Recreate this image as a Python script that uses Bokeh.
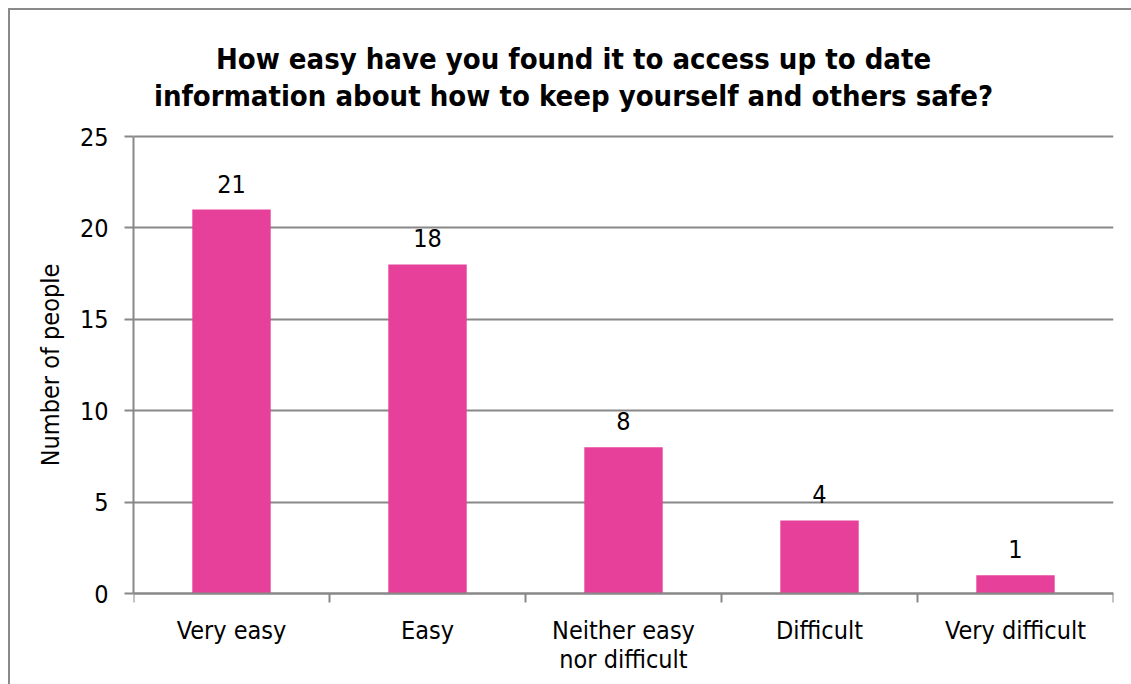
from bokeh.plotting import figure
from bokeh.models import Range1d, FixedTicker, ColumnDataSource, LabelSet, Label
from bokeh.core.properties import value
from bokeh.embed import file_html
from bokeh.resources import INLINE

categories = ["Very easy", "Easy", "Neither easy\nnor difficult", "Difficult", "Very difficult"]
counts = [21, 18, 8, 4, 1]
y_ticks = [0, 5, 10, 15, 20, 25]
title_lines = ["How easy have you found it to access up to date",
               "information about how to keep yourself and others safe?"]
y_label = "Number of people"

FONT = "DejaVu Sans Condensed"
GRAY = "#888888"
PINK = "#E6409A"

# pixel layout (page coordinates)
OFF = 10            # page margin + chart box border
LEFT_X, RIGHT_X = 133, 1113
ZERO_Y = 593        # y of value 0
TOP_Y = 136         # y of value 25
PX_PER_UNIT = (ZERO_Y - TOP_Y) / y_ticks[-1]
FRAME_BOTTOM = 2 * (ZERO_Y + TOP_Y) / 2 - OFF   # keeps the axis title centred on 0..25
Y_END = (ZERO_Y - OFF) / PX_PER_UNIT
Y_START = -(FRAME_BOTTOM - ZERO_Y) / PX_PER_UNIT

n = len(categories)
xs = [i + 0.5 for i in range(n)]
src = ColumnDataSource(dict(x=xs, top=counts, lab=[str(c) for c in counts]))

p = figure(frame_width=RIGHT_X - LEFT_X, frame_height=int(round(FRAME_BOTTOM - OFF)),
           output_backend="svg", toolbar_location=None,
           x_range=Range1d(0, n), y_range=Range1d(Y_START, Y_END),
           min_border_left=LEFT_X - OFF, min_border_right=60, min_border_top=0,
           min_border_bottom=0, title=None)
p.styles = {"margin-left": f"{OFF}px", "margin-top": f"{OFF}px",
            "box-shadow": "-2px -2px 0 0 #8a8a8a"}
p.outline_line_color = None
p.background_fill_color = "white"
p.border_fill_color = "white"

p.vbar(x="x", top="top", bottom=0, width=0.4, source=src, fill_color=PINK, line_color=None)

p.add_layout(LabelSet(x="x", y="top", text="lab", source=src, text_align="center",
                      text_baseline="alphabetic", y_offset=17, text_font=value(FONT),
                      text_font_size=value("25px"), text_color="black"))

# x axis (drawn at value 0)
xa = p.xaxis[0]
xa.fixed_location = 0
xa.ticker = FixedTicker(ticks=xs, minor_ticks=list(range(n + 1)))
xa.major_label_overrides = {x: c for x, c in zip(xs, categories)}
xa.major_tick_line_color = None
xa.major_tick_out = 0
xa.major_tick_in = 0
xa.minor_tick_line_color = GRAY
xa.minor_tick_line_width = 2
xa.minor_tick_out = 9
xa.minor_tick_in = 0
xa.axis_line_color = GRAY
xa.axis_line_width = 2
xa.major_label_text_font = FONT
xa.major_label_text_font_size = "25px"
xa.major_label_text_color = "black"
xa.major_label_text_line_height = 1.0
xa.major_label_standoff = 13

# y axis
ya = p.yaxis[0]
ya.ticker = FixedTicker(ticks=y_ticks)
ya.bounds = (y_ticks[0], y_ticks[-1])
ya.minor_tick_line_color = None
ya.major_tick_line_color = GRAY
ya.major_tick_line_width = 2
ya.major_tick_out = 9
ya.major_tick_in = 0
ya.axis_line_color = GRAY
ya.axis_line_width = 2
ya.major_label_text_font = FONT
ya.major_label_text_font_size = "25px"
ya.major_label_text_color = "black"
ya.major_label_standoff = 16
ya.axis_label = y_label
ya.axis_label_text_font = FONT
ya.axis_label_text_font_size = "25px"
ya.axis_label_text_font_style = "normal"
ya.axis_label_text_color = "black"
ya.axis_label_standoff = 12

p.xgrid.grid_line_color = None
p.ygrid.grid_line_color = GRAY
p.ygrid.grid_line_width = 2

# title: two centred lines above the bars (inside the extended frame)
title_x = (573 - LEFT_X) / ((RIGHT_X - LEFT_X) / n)
title_baselines = [(ZERO_Y - 58) / PX_PER_UNIT, (ZERO_Y - 95) / PX_PER_UNIT]
for line, yy in zip(title_lines, title_baselines):
    p.add_layout(Label(x=title_x, y=yy, text=line, text_align="center",
                       text_baseline="alphabetic", text_font=FONT,
                       text_font_size="29px", text_font_style="bold",
                       text_color="black"))

html = file_html(p, INLINE)
html = html.replace("</head>", "<style>html,body{margin:0;overflow:hidden;}</style></head>", 1)
open("out.html", "w").write(html)
